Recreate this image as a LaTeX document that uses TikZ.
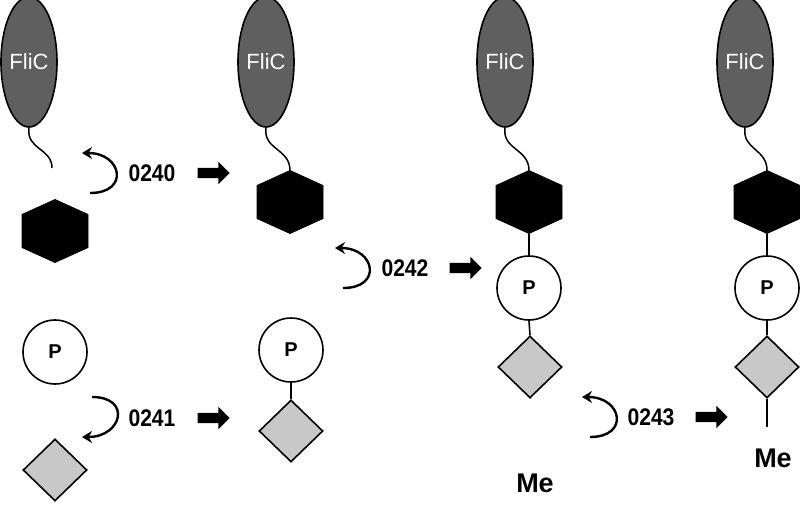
\documentclass[tikz,border=0pt]{standalone}
\usepackage{fontspec}
\setmainfont{Liberation Sans}
\newfontfamily\narrowbold[FakeStretch=0.88]{Liberation Sans}
\usetikzlibrary{arrows.meta,shapes.geometric,shapes.arrows,calc}
\definecolor{flicgray}{RGB}{95,95,95}
\definecolor{diagray}{RGB}{200,200,200}
\tikzset{
  flic/.style={ellipse, draw=black, line width=1.6pt, fill=flicgray, minimum width=56pt, minimum height=130pt, inner sep=0pt, text=white, font=\fontsize{22}{22}\selectfont},
  pcirc/.style={circle, draw=black, line width=1.6pt, fill=white, minimum size=64pt, inner sep=0pt, font=\bfseries\fontsize{20}{20}\selectfont},
  dia/.style={diamond, draw=black, line width=1.6pt, fill=diagray, minimum width=64pt, minimum height=62pt, inner sep=0pt},
  hexa/.style={fill=black, draw=black, line width=0.8pt},
  tail/.style={draw=black, line width=1.5pt},
  bond/.style={draw=black, line width=1.6pt},
  enz/.style={font=\narrowbold\bfseries\fontsize{24}{24}\selectfont, inner sep=0pt},
  melab/.style={font=\bfseries\fontsize{27}{27}\selectfont, inner sep=0pt},
  curv/.style={draw=black, line width=2.4pt, -{Stealth[length=10pt,width=12pt]}},
  blockarrow/.style={single arrow, fill=black, minimum height=32pt, inner sep=5pt, single arrow head extend=6pt, single arrow tip angle=90}
}
\newcommand{\hexagonat}[2]{%
  \fill[hexa] (#1) ++(0,31.5) -- ++(33,-15) -- ++(0,-33) -- ++(-33,-15) -- ++(-33,15) -- ++(0,33) -- cycle;
  \coordinate (#2t) at ($(#1)+(0,31.5)$);
  \coordinate (#2b) at ($(#1)+(0,-31.5)$);
}
\begin{document}
\begin{tikzpicture}[x=1pt,y=1pt]
\useasboundingbox (0,0) rectangle (800,-504);

% ---------- column 1 ----------
\node[flic] (e1) at (29,-62) {FliC};
\coordinate (t1) at (52,-168);
\coordinate (h1) at (55,-231);
\hexagonat{h1}{h1}
\node[pcirc] (p1) at (55,-352) {P};
\node[dia] (d1) at (55,-470) {};
\draw[tail] (e1.south) .. controls +(-3,-22) and +(0,20) .. (t1);

% ---------- column 2 ----------
\node[flic] (e2) at (266,-62) {FliC};
\coordinate (h2) at (290,-202);
\hexagonat{h2}{h2}
\node[pcirc] (p2) at (291,-350) {P};
\node[dia] (d2) at (291,-431) {};
\draw[tail] (e2.south) .. controls +(-3,-22) and +(0,22) .. (h2t);
\draw[bond] (p2.south) -- (d2.north);

% ---------- column 3 ----------
\node[flic] (e3) at (505,-62) {FliC};
\coordinate (h3) at (529,-202);
\hexagonat{h3}{h3}
\node[pcirc] (p3) at (529,-288) {P};
\node[dia] (d3) at (530,-367) {};
\node[melab] (m3) at (535,-483) {Me};
\draw[tail] (e3.south) .. controls +(-3,-22) and +(0,22) .. (h3t);
\draw[bond] (h3b) -- (p3.north);
\draw[bond] (p3.south) -- (d3.north);

% ---------- column 4 ----------
\node[flic] (e4) at (745,-62) {FliC};
\coordinate (h4) at (767,-202);
\hexagonat{h4}{h4}
\node[pcirc] (p4) at (767,-288) {P};
\node[dia] (d4) at (767,-367) {};
\coordinate (me4end) at (767,-427);
\node[melab] (m4) at (773,-458) {Me};
\draw[tail] (e4.south) .. controls +(-3,-22) and +(0,22) .. (h4t);
\draw[bond] (h4b) -- (p4.north);
\draw[bond] (p4.south) -- (d4.north);
\draw[bond] (d4.south) -- (me4end);

% ---------- enzyme steps ----------
\node[enz] (l0) at (152,-173) {0240};
\node[enz] (l1) at (152,-418) {0241};
\node[enz] (l2) at (405,-268) {0242};
\node[enz] (l3) at (651,-417) {0243};

\coordinate (c0s) at ($(l0)+(-62,-20)$);
\coordinate (c0e) at ($(l0)+(-70,20)$);
\draw[curv] (c0s) .. controls +(40,0) and +(40,0) .. (c0e);

\coordinate (c1s) at ($(l1)+(-60,21)$);
\coordinate (c1e) at ($(l1)+(-70,-19)$);
\draw[curv] (c1s) .. controls +(40,0) and +(40,0) .. (c1e);

\coordinate (c2s) at ($(l2)+(-62,-20)$);
\coordinate (c2e) at ($(l2)+(-70,20)$);
\draw[curv] (c2s) .. controls +(40,0) and +(40,0) .. (c2e);

\coordinate (c3s) at ($(l3)+(-61,-20)$);
\coordinate (c3e) at ($(l3)+(-69,20)$);
\draw[curv] (c3s) .. controls +(40,0) and +(40,0) .. (c3e);

\node[blockarrow] (b0) at (211,-173) {};
\node[blockarrow] (b1) at (211,-418) {};
\node[blockarrow] (b2) at (463,-268) {};
\node[blockarrow] (b3) at (709,-417) {};
\end{tikzpicture}
\end{document}
